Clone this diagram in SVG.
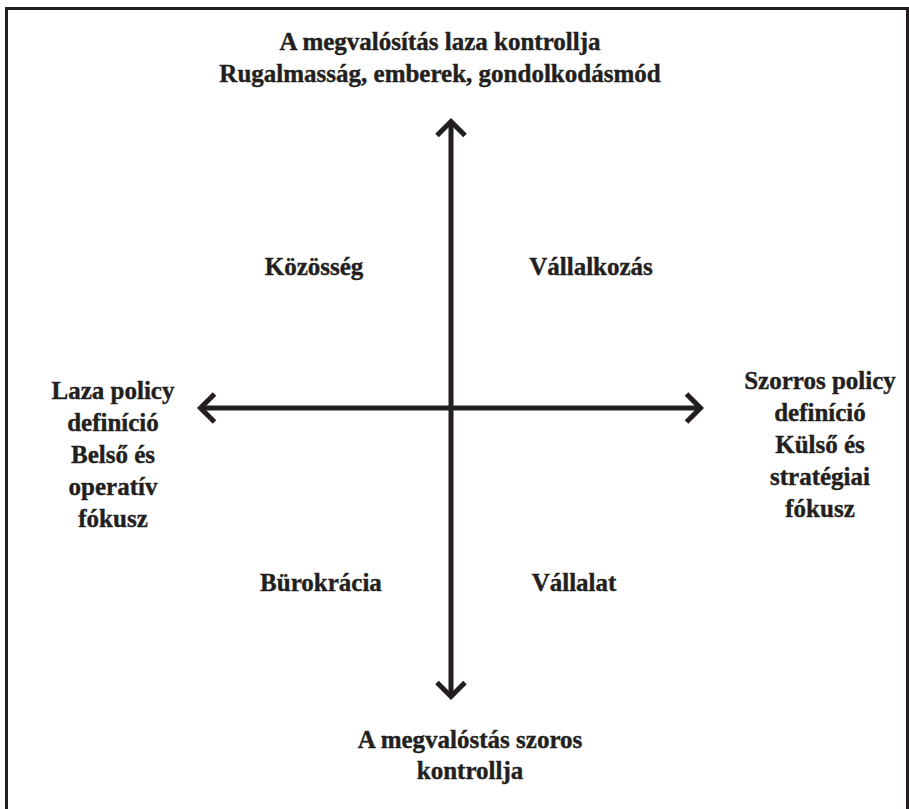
<svg xmlns="http://www.w3.org/2000/svg" width="909" height="809" viewBox="0 0 909 809">
<style>
  .t { font-family: "Liberation Serif", "Times New Roman", serif; font-weight: bold; font-size: 25px; fill: #231f20; stroke: #231f20; stroke-width: 0.4; text-anchor: middle; }
  .ax { stroke: #231f20; stroke-width: 5; fill: none; }
</style>
<defs>
  <marker id="chev" markerUnits="userSpaceOnUse" markerWidth="40" markerHeight="40" viewBox="-20 -20 40 40" refX="0" refY="0" orient="auto-start-reverse" overflow="visible">
    <path d="M-14,-14 L0,0 L-14,14" fill="none" stroke="#231f20" stroke-width="5" stroke-linejoin="miter"/>
  </marker>
</defs>
<rect x="0" y="0" width="909" height="809" fill="#ffffff"/>
<rect id="frame" x="6.5" y="8.5" width="901" height="830" fill="none" stroke="#231f20" stroke-width="3"/>
<g id="connectors">
  <line class="ax" x1="451" y1="121.5" x2="451" y2="696.5" marker-start="url(#chev)" marker-end="url(#chev)"/>
  <line class="ax" x1="200.5" y1="408" x2="700.5" y2="408" marker-start="url(#chev)" marker-end="url(#chev)"/>
</g>
<g id="top">
  <text class="t" x="440" y="50">A megvalósítás laza kontrollja</text>
  <text class="t" x="440" y="82">Rugalmasság, emberek, gondolkodásmód</text>
</g>
<g id="bottom">
  <text class="t" x="470" y="748">A megvalóstás szoros</text>
  <text class="t" x="470" y="779">kontrollja</text>
</g>
<g id="left">
  <text class="t" x="113" y="399">Laza policy</text>
  <text class="t" x="113" y="431">definíció</text>
  <text class="t" x="113" y="463">Belső és</text>
  <text class="t" x="113" y="495">operatív</text>
  <text class="t" x="113" y="527">fókusz</text>
</g>
<g id="right">
  <text class="t" x="820" y="389">Szorros policy</text>
  <text class="t" x="820" y="421">definíció</text>
  <text class="t" x="820" y="453">Külső és</text>
  <text class="t" x="820" y="485">stratégiai</text>
  <text class="t" x="820" y="517">fókusz</text>
</g>
<g id="q-kozosseg"><text class="t" x="314" y="275">Közösség</text></g>
<g id="q-vallalkozas"><text class="t" x="591" y="275">Vállalkozás</text></g>
<g id="q-burokracia"><text class="t" x="321" y="591">Bürokrácia</text></g>
<g id="q-vallalat"><text class="t" x="574" y="591">Vállalat</text></g>
</svg>
